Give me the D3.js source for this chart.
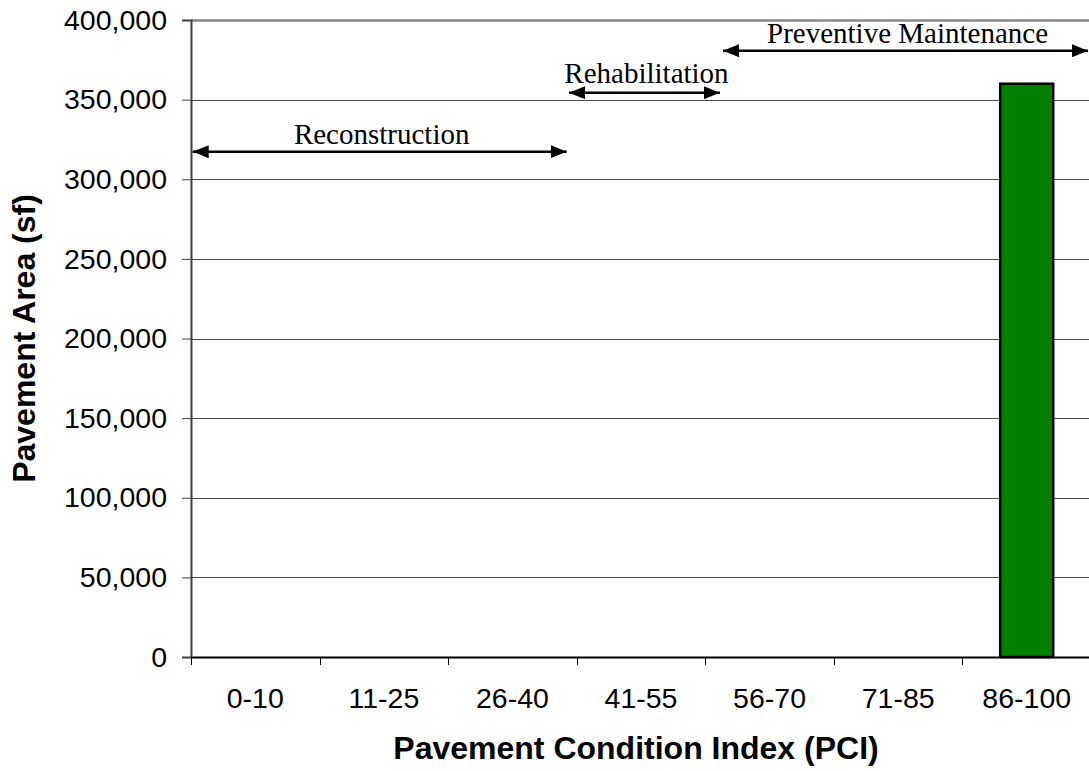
<!DOCTYPE html>
<html>
<head>
<meta charset="utf-8">
<script src="https://cdn.jsdelivr.net/npm/d3@7"></script>
<style>
  html, body { margin: 0; padding: 0; background: #fff; }
  svg { display: block; }
</style>
</head>
<body>
<svg id="chart" width="1089" height="771"></svg>
<script>
// PCI categories and pavement area per category (square feet)
const categories = ["0-10", "11-25", "26-40", "41-55", "56-70", "71-85", "86-100"];
const areaValues = [0, 0, 0, 0, 0, 0, 360000];
const yTicks = [0, 50000, 100000, 150000, 200000, 250000, 300000, 350000, 400000];

// Treatment ranges drawn as double-headed arrows (category index span, arrow height in sf)
const treatmentNames = ["Reconstruction", "Rehabilitation", "Preventive Maintenance"];
const treatmentStart = [0.013, 2.94, 4.138];
const treatmentEnd = [2.922, 4.114, 6.977];
const treatmentLevel = [317300, 354350, 380700];

const svg = d3.select("#chart");
const margin = { left: 191, top: 20, bottom: 114 };
const plotW = 900;
const plotH = 771 - margin.top - margin.bottom;
const sans = "Liberation Sans, Arial, sans-serif";
const serif = "Liberation Serif, Times New Roman, serif";

const x = d3.scaleBand().domain(categories).range([margin.left, margin.left + plotW]).paddingInner(0).paddingOuter(0);
const xc = d3.scaleLinear().domain([0, categories.length]).range([margin.left, margin.left + plotW]);
const y = d3.scaleLinear().domain([0, 400000]).range([margin.top + plotH, margin.top]);

// gridlines
svg.append("g")
  .selectAll("line")
  .data(yTicks.filter(d => d > 0 && d < 400000))
  .join("line")
  .attr("x1", margin.left).attr("x2", margin.left + plotW)
  .attr("y1", d => Math.round(y(d)) + 0.5).attr("y2", d => Math.round(y(d)) + 0.5)
  .attr("stroke", "#4a4a4a").attr("stroke-width", 1);

// top border
svg.append("line")
  .attr("x1", margin.left).attr("x2", margin.left + plotW)
  .attr("y1", y(400000) + 0.5).attr("y2", y(400000) + 0.5)
  .attr("stroke", "#888").attr("stroke-width", 2.5);

// bars
const barW = 53;
svg.append("g")
  .selectAll("rect")
  .data(categories.map((c, i) => ({ c, v: areaValues[i] })).filter(d => d.v > 0))
  .join("rect")
  .attr("x", d => x(d.c) + x.bandwidth() / 2 - barW / 2)
  .attr("y", d => y(d.v))
  .attr("width", barW)
  .attr("height", d => y(0) - y(d.v))
  .attr("fill", "#008000")
  .attr("stroke", "#000")
  .attr("stroke-width", 2.5);

// y axis
const yAxis = svg.append("g")
  .attr("transform", `translate(${margin.left},0)`)
  .call(d3.axisLeft(y).tickValues(yTicks).tickFormat(d3.format(",")).tickSize(9).tickPadding(15));
yAxis.select(".domain").attr("stroke", "#404040").attr("stroke-width", 2);
yAxis.selectAll(".tick line").attr("stroke", "#404040");
yAxis.selectAll("text")
  .attr("font-family", sans)
  .attr("font-size", "28.5px").attr("fill", "#000");

// x axis
const xAxis = svg.append("g")
  .attr("transform", `translate(0,${y(0)})`)
  .call(d3.axisBottom(x).tickSize(0).tickPadding(31));
xAxis.select(".domain").attr("stroke", "#000").attr("stroke-width", 2);
xAxis.selectAll("text")
  .attr("font-family", sans)
  .attr("font-size", "28.5px").attr("fill", "#000");
// category boundary ticks
svg.append("g")
  .selectAll("line")
  .data(d3.range(categories.length + 1))
  .join("line")
  .attr("x1", d => Math.round(xc(d)) + 0.5).attr("x2", d => Math.round(xc(d)) + 0.5)
  .attr("y1", y(0)).attr("y2", y(0) + 8)
  .attr("stroke", "#000").attr("stroke-width", 1);

// axis titles
svg.append("text")
  .attr("x", margin.left + plotW / 2 - 5).attr("y", 759)
  .attr("text-anchor", "middle")
  .attr("font-family", sans)
  .attr("font-weight", "bold").attr("font-size", "32px")
  .text("Pavement Condition Index (PCI)");
svg.append("text")
  .attr("transform", `translate(35,${margin.top + plotH / 2}) rotate(-90)`)
  .attr("text-anchor", "middle")
  .attr("font-family", sans)
  .attr("font-weight", "bold").attr("font-size", "32px")
  .text("Pavement Area (sf)");

// arrowhead marker
const defs = svg.append("defs");
defs.append("marker")
  .attr("id", "head")
  .attr("viewBox", "0 0 16 13")
  .attr("refX", 16).attr("refY", 6.5)
  .attr("markerWidth", 16).attr("markerHeight", 13)
  .attr("markerUnits", "userSpaceOnUse")
  .attr("orient", "auto-start-reverse")
  .append("path").attr("d", "M0,0 L16,6.5 L0,13 Z").attr("fill", "#000");

// treatment range annotations
const ann = svg.append("g");
treatmentNames.forEach((name, i) => {
  const x1 = xc(treatmentStart[i]);
  const x2 = xc(treatmentEnd[i]);
  const yy = y(treatmentLevel[i]);
  ann.append("line")
    .attr("x1", x1).attr("x2", x2).attr("y1", yy).attr("y2", yy)
    .attr("stroke", "#000").attr("stroke-width", 2.5)
    .attr("marker-start", "url(#head)").attr("marker-end", "url(#head)");
  ann.append("text")
    .attr("x", (x1 + x2) / 2 + 2).attr("y", yy - (i === 1 ? 10 : 7.5))
    .attr("text-anchor", "middle")
    .attr("font-family", serif)
    .attr("font-size", "29px").attr("fill", "#000")
    .text(name);
});
</script>
</body>
</html>
